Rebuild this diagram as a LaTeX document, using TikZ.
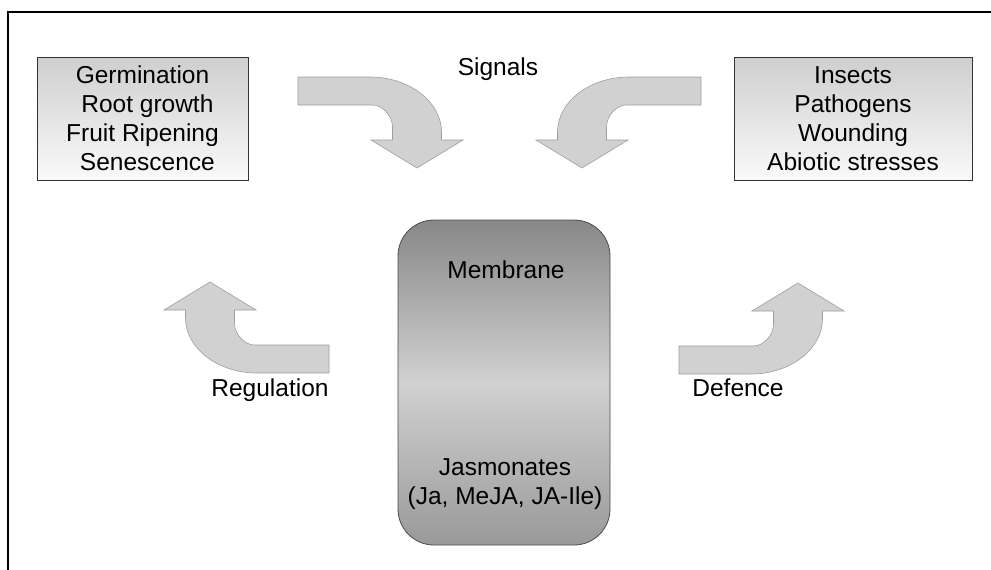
\documentclass[tikz,border=0pt]{standalone}
\usepackage{fontspec}
\setmainfont{Liberation Sans}
\tikzset{
  bentarrow/.pic={
    \draw[arrowbody] (-119,-91) -- (-47,-91)
      .. controls (-7.5,-91) and (24.5,-66) .. (24.5,-36)
      -- (24.5,-28) -- (46,-28) -- (0,0) -- (-46,-28) -- (-24.5,-28) -- (-24.5,-41)
      .. controls (-24.5,-53) and (-35.3,-63) .. (-44,-63)
      -- (-119,-63) -- cycle;
  }
}
\begin{document}
\begin{tikzpicture}[
    x=1pt, y=-1pt,
    font=\fontsize{24.5}{29}\selectfont,
    listbox/.style={rectangle, draw=black!80, line width=0.8pt, top color=black!19, bottom color=black!2, minimum width=211pt, minimum height=123pt, align=center, inner sep=0pt},
    corebox/.style={rectangle, draw=black!70, line width=0.8pt, rounded corners=36pt, top color=black!47, bottom color=black!40, middle color=black!18, minimum width=212pt, minimum height=325pt},
    caption/.style={anchor=base, inner sep=0pt},
    arrowbody/.style={fill=black!18, draw=black!38, line width=0.6pt}
]
\useasboundingbox (0,0) rectangle (991,570);
\fill[white] (0,0) rectangle (991,570);
\draw[line width=1.4pt] (8,570) -- (8,12) -- (991,12);

% side boxes
\node[listbox] (growth) at (142.5,118.5) {Germination\\\hspace*{0.4em}Root growth\\Fruit Ripening\\\hspace*{0.4em}Senescence};
\node[listbox, minimum width=238pt] (stress) at (853,118.5) {Insects\\Pathogens\\Wounding\\Abiotic stresses};

% central cell
\node[corebox] (core) at (504,382.5) {};
\node[caption] (membrane) at (506,278) {Membrane};
\node[caption] (jasmonates) at (505,475) {Jasmonates};
\node[caption] (compounds) at (505,504) {(Ja, MeJA, JA-Ile)};

% bent arrows
\pic at (417,168) {bentarrow};
\pic[xscale=-1] at (582,168) {bentarrow};
\pic[xscale=-1, yscale=-1] at (210,282) {bentarrow};
\pic[yscale=-1] at (798,283) {bentarrow};

\node[caption] (signals) at (498,75) {Signals};
\node[caption] (regulation) at (270,396) {Regulation};
\node[caption] (defence) at (738,396) {Defence};
\end{tikzpicture}
\end{document}
